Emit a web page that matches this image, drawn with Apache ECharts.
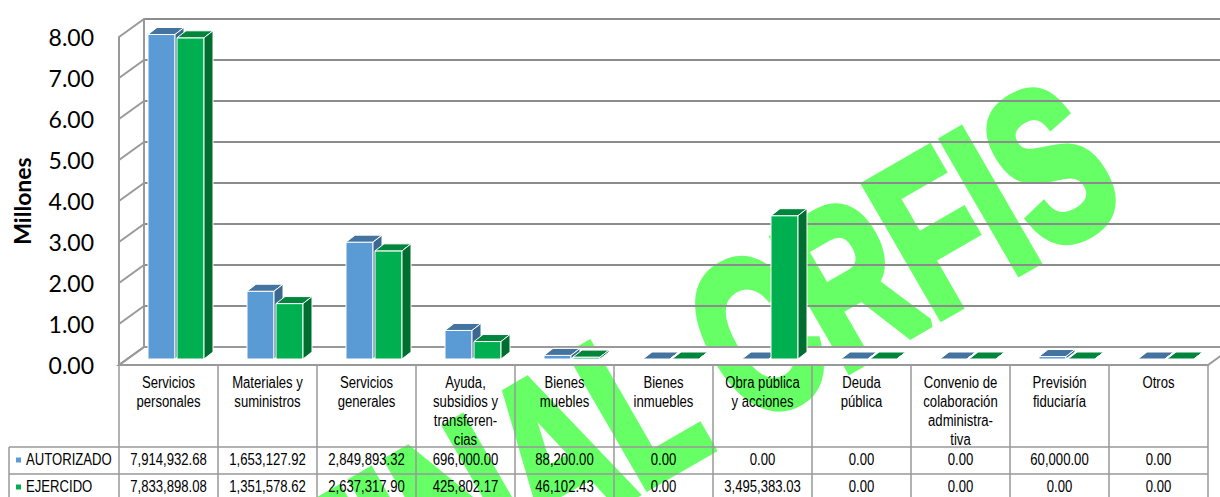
<!DOCTYPE html>
<html><head><meta charset="utf-8">
<script src="https://cdn.jsdelivr.net/npm/echarts@6/dist/echarts.min.js"></script>
<style>html,body{margin:0;padding:0;background:#fff}#c{width:1220px;height:497px}</style>
</head><body><div id="c"></div>
<script>
// ---- data ----
const categories = [
  'Servicios\npersonales', 'Materiales y\nsuministros', 'Servicios\ngenerales',
  'Ayuda,\nsubsidios y\ntransferen-\ncias', 'Bienes\nmuebles', 'Bienes\ninmuebles',
  'Obra pública\ny acciones', 'Deuda\npública', 'Convenio de\ncolaboración\nadministra-\ntiva',
  'Previsión\nfiduciaría', 'Otros'
];
const autorizado = [7914932.68, 1653127.92, 2849893.32, 696000.00, 88200.00, 0.00, 0.00, 0.00, 0.00, 60000.00, 0.00];
const ejercido   = [7833898.08, 1351578.62, 2637317.90, 425802.17, 46102.43, 0.00, 3495383.03, 0.00, 0.00, 0.00, 0.00];
const seriesNames = ['AUTORIZADO', 'EJERCIDO'];
const yTicks = [0, 1, 2, 3, 4, 5, 6, 7, 8];
const axisName = 'Millones';
const watermark = 'FINAL CRFIS';

// ---- styling ----
const SANS = "'Liberation Sans',Arial,sans-serif";
const NARROW_SX = 0.82;              // Arial Narrow look
const WALL_DX = 25, WALL_DY = -18;   // depth of the chart box
const BAR_OX = 8, BAR_OY = -6;       // bar placement inside depth
const BAR_DX = 9, BAR_DY = -7;       // bar depth
const BAR_W = 27;
const colors = [
  {front: '#5B9BD5', top: '#44739F', side: '#3B6790'},
  {front: '#00B050', top: '#00853D', side: '#006E31'}
];
const fmt = v => v.toLocaleString('en-US', {minimumFractionDigits: 2, maximumFractionDigits: 2});

function barRender(sIdx) {
  const c = colors[sIdx];
  return function (params, api) {
    const i = api.value(0), v = api.value(1);
    const base = api.coord([i, 0]);
    const top = api.coord([i, v]);
    const cx = base[0] + BAR_OX;
    const yb = base[1] + BAR_OY, yt = top[1] + BAR_OY;
    const x0 = sIdx === 0 ? cx - 28.5 : cx + 0.5;
    const x1 = x0 + BAR_W;
    const st = {stroke: '#fff', lineWidth: 1};
    return {type: 'group', children: [
      {type: 'rect', shape: {x: x0, y: yt, width: BAR_W, height: Math.max(0, yb - yt)}, style: Object.assign({fill: c.front}, st)},
      {type: 'polygon', shape: {points: [[x0, yt], [x1, yt], [x1 + BAR_DX, yt + BAR_DY], [x0 + BAR_DX, yt + BAR_DY]]}, style: Object.assign({fill: c.top}, st)},
      {type: 'polygon', shape: {points: [[x1, yt], [x1 + BAR_DX, yt + BAR_DY], [x1 + BAR_DX, yb + BAR_DY], [x1, yb]]}, style: Object.assign({fill: c.side}, st)}
    ]};
  };
}

function cellText(x, y, text, align, vAlign) {
  return {type: 'text', x: x, y: y, scaleX: NARROW_SX,
    style: {text: text, font: '16px ' + SANS, fill: '#000', lineHeight: 19,
      align: align, textAlign: align, verticalAlign: vAlign, textVerticalAlign: vAlign}};
}

// table cells: header, autorizado, ejercido for each category column
function tableRender(params, api) {
  const i = api.value(0);
  const p = api.coord([i, 0]);
  return {type: 'group', children: [
    cellText(p[0], p[1] + 8.5, categories[i], 'center', 'top'),
    cellText(p[0], p[1] + 95, fmt(autorizado[i]), 'center', 'middle'),
    cellText(p[0], p[1] + 122, fmt(ejercido[i]), 'center', 'middle')
  ]};
}

const chart = echarts.init(document.getElementById('c'), null, {renderer: 'svg'});

chart.setOption({
  animation: false,
  backgroundColor: '#fff',
  grid: [
    {left: 119, right: 12, top: 37, bottom: 132, outerBoundsMode: 'none', containLabel: false},
    {left: 144, right: -13, top: 19, bottom: 150, outerBoundsMode: 'none', containLabel: false}
  ],
  xAxis: [
    {type: 'category', gridIndex: 0, data: categories,
      axisLine: {show: true, lineStyle: {color: '#999', width: 2}},
      axisTick: {show: true, length: 132, lineStyle: {color: '#999', width: 1.5}},
      axisLabel: {show: false}},
    {type: 'value', gridIndex: 1, show: false, min: 0, max: 1}
  ],
  yAxis: [
    {type: 'value', gridIndex: 0, min: 0, max: 8, interval: 1,
      name: axisName, nameLocation: 'middle', nameGap: 86, nameRotate: 90,
      nameTextStyle: {fontFamily: 'Lato', fontWeight: 'bold', fontSize: 23, color: '#000'},
      axisLine: {show: true, lineStyle: {color: '#999', width: 2}},
      axisTick: {show: false}, splitLine: {show: false},
      axisLabel: {margin: 25, fontFamily: 'Lato', fontSize: 23, color: '#000', formatter: v => v.toFixed(2)}},
    {type: 'value', gridIndex: 1, min: 0, max: 8, interval: 1,
      axisLine: {show: true, lineStyle: {color: '#999', width: 2}},
      axisTick: {show: false}, axisLabel: {show: false},
      splitLine: {show: true, lineStyle: {color: '#8c8c8c', width: 2}}}
  ],
  graphic: [
    {type: 'text', x: 1092, y: 141, rotation: Math.PI / 6, scaleX: 0.67, z: -10,
      style: {text: watermark, font: 'bold 219px ' + SANS, fill: '#66FF66', stroke: '#66FF66', lineWidth: 10,
        align: 'right', textAlign: 'right', verticalAlign: 'middle', textVerticalAlign: 'middle'}},
    {type: 'line', shape: {x1: 9, y1: 447, x2: 1208, y2: 447}, style: {stroke: '#999', lineWidth: 1.5}},
    {type: 'line', shape: {x1: 9, y1: 474, x2: 1208, y2: 474}, style: {stroke: '#999', lineWidth: 1.5}},
    {type: 'line', shape: {x1: 9, y1: 447, x2: 9, y2: 497}, style: {stroke: '#999', lineWidth: 1.5}},
    {type: 'rect', shape: {x: 16, y: 457.5, width: 5, height: 5}, style: {fill: colors[0].front}},
    {type: 'rect', shape: {x: 16, y: 484.5, width: 5, height: 5}, style: {fill: colors[1].front}},
    {type: 'text', x: 26, y: 460, scaleX: NARROW_SX,
      style: {text: seriesNames[0], font: '16px ' + SANS, fill: '#000', align: 'left', textAlign: 'left', verticalAlign: 'middle', textVerticalAlign: 'middle'}},
    {type: 'text', x: 26, y: 487, scaleX: NARROW_SX,
      style: {text: seriesNames[1], font: '16px ' + SANS, fill: '#000', align: 'left', textAlign: 'left', verticalAlign: 'middle', textVerticalAlign: 'middle'}}
  ],
  series: [
    {type: 'custom', name: 'floor', z: 1, xAxisIndex: 0, yAxisIndex: 0, data: [[0, 0]], silent: true,
      renderItem: (params, api) => {
        const cs = params.coordSys; const y0 = api.coord([0, 0])[1];
        return {type: 'polygon', shape: {points: [[cs.x, y0], [cs.x + cs.width, y0], [cs.x + cs.width + WALL_DX, y0 + WALL_DY], [cs.x + WALL_DX, y0 + WALL_DY]]},
          style: {fill: '#fff', stroke: '#999', lineWidth: 2}};
      }},
    {type: 'custom', name: 'wall', z: 1, xAxisIndex: 0, yAxisIndex: 0, data: yTicks.map(v => [0, v]), silent: true,
      renderItem: (params, api) => {
        const cs = params.coordSys; const y = api.coord([0, api.value(1)])[1];
        return {type: 'line', shape: {x1: cs.x, y1: y, x2: cs.x + WALL_DX, y2: y + WALL_DY}, style: {stroke: '#999', lineWidth: 2}};
      }},
    {type: 'custom', name: 'table', z: 5, xAxisIndex: 0, yAxisIndex: 0, silent: true, clip: false,
      data: categories.map((c, i) => [i, 0]), renderItem: tableRender},
    {type: 'custom', name: seriesNames[0], z: 3, xAxisIndex: 0, yAxisIndex: 0, itemStyle: {color: colors[0].front},
      data: autorizado.map((v, i) => [i, v / 1e6]), renderItem: barRender(0)},
    {type: 'custom', name: seriesNames[1], z: 4, xAxisIndex: 0, yAxisIndex: 0, itemStyle: {color: colors[1].front},
      data: ejercido.map((v, i) => [i, v / 1e6]), renderItem: barRender(1)}
  ]
});
</script></body></html>
